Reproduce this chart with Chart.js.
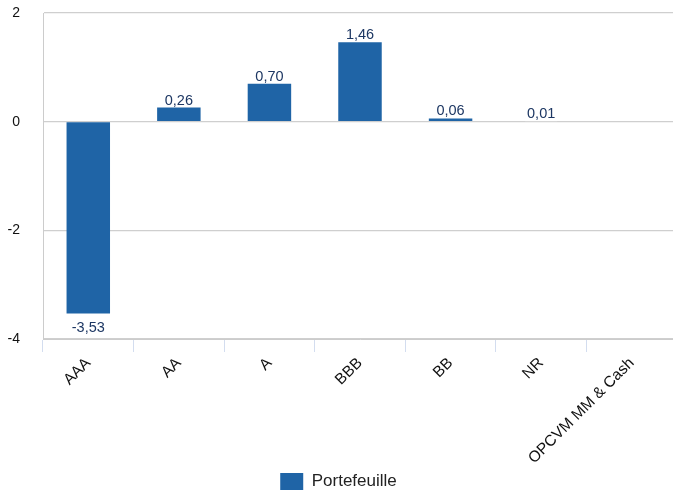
<!DOCTYPE html>
<html>
<head>
<meta charset="utf-8">
<script src="https://cdn.jsdelivr.net/npm/chart.js@4/dist/chart.umd.min.js"></script>
<style>
  html, body { margin: 0; padding: 0; background: #fff; overflow: hidden; }
  #wrap { width: 677px; height: 500px; position: relative; }
</style>
</head>
<body>
<div id="wrap"><canvas id="c"></canvas></div>
<script>
// Rating buckets and portfolio contribution per bucket
const categories = ['AAA', 'AA', 'A', 'BBB', 'BB', 'NR', 'OPCVM MM & Cash'];
const portefeuille = [-3.53, 0.26, 0.70, 1.46, 0.06, 0.01, null];
const seriesName = 'Portefeuille';
const yTicks = { min: -4, max: 2, step: 2 };

const FONT = '"Liberation Sans", Arial, Helvetica, sans-serif';
const BAR_COLOR = '#1f64a6';
const LABEL_COLOR = '#1d3763';

const fmt = v => v.toFixed(2).replace('.', ',');

// Draws each bar's value above (or below, when negative) the bar, on a white pad
const valueLabels = {
  id: 'valueLabels',
  afterDatasetsDraw(chart) {
    const ctx = chart.ctx;
    const meta = chart.getDatasetMeta(0);
    const data = chart.data.datasets[0].data;
    ctx.save();
    ctx.font = '14.5px ' + FONT;
    ctx.textAlign = 'center';
    meta.data.forEach((bar, i) => {
      const v = data[i];
      if (v === null || v === undefined) return;
      const txt = fmt(v);
      const w = ctx.measureText(txt).width;
      if (v >= 0) {
        ctx.textBaseline = 'alphabetic';
        const yText = bar.y - 3;
        if (v < 0.05) {
          ctx.fillStyle = '#fff';
          ctx.fillRect(bar.x - w / 2 - 2, yText - 13, w + 4, 16);
        }
        ctx.fillStyle = LABEL_COLOR;
        ctx.fillText(txt, bar.x, yText);
      } else {
        ctx.textBaseline = 'top';
        ctx.fillStyle = LABEL_COLOR;
        ctx.fillText(txt, bar.x, bar.y + 7);
      }
    });
    ctx.restore();
  }
};

new Chart(document.getElementById('c'), {
  type: 'bar',
  data: {
    labels: categories,
    datasets: [{
      label: seriesName,
      data: portefeuille,
      backgroundColor: BAR_COLOR,
      borderWidth: 0,
      categoryPercentage: 0.8,
      barPercentage: 0.6
    }]
  },
  options: {
    responsive: true,
    maintainAspectRatio: false,
    animation: false,
    layout: { padding: { top: 13, right: 0, left: 0, bottom: 0 } },
    plugins: {
      legend: {
        position: 'bottom',
        labels: {
          boxWidth: 23,
          boxHeight: 17,
          padding: 0,
          color: '#222',
          font: { family: FONT, size: 17 }
        }
      },
      tooltip: { enabled: false }
    },
    scales: {
      x: {
        afterFit(scale) { scale.height = 134; },
        grid: {
          offset: true,
          drawOnChartArea: false,
          drawTicks: true,
          tickLength: 13,
          color: '#d3ddef'
        },
        border: { display: true, color: '#cccccc' },
        ticks: {
          color: '#111',
          font: { family: FONT, size: 15.5 },
          minRotation: 45,
          maxRotation: 45,
          padding: 2,
          autoSkip: false
        }
      },
      y: {
        min: yTicks.min,
        max: yTicks.max,
        afterFit(scale) { scale.width = 43; },
        grid: {
          color: '#cfcfcf',
          lineWidth: 1.3,
          drawTicks: true,
          tickLength: 20,
          tickColor: 'rgba(0,0,0,0)'
        },
        border: { display: true, color: '#cccccc' },
        ticks: {
          stepSize: yTicks.step,
          color: '#111',
          padding: 3,
          font: { family: FONT, size: 14 }
        }
      }
    }
  },
  plugins: [valueLabels]
});
</script>
</body>
</html>
